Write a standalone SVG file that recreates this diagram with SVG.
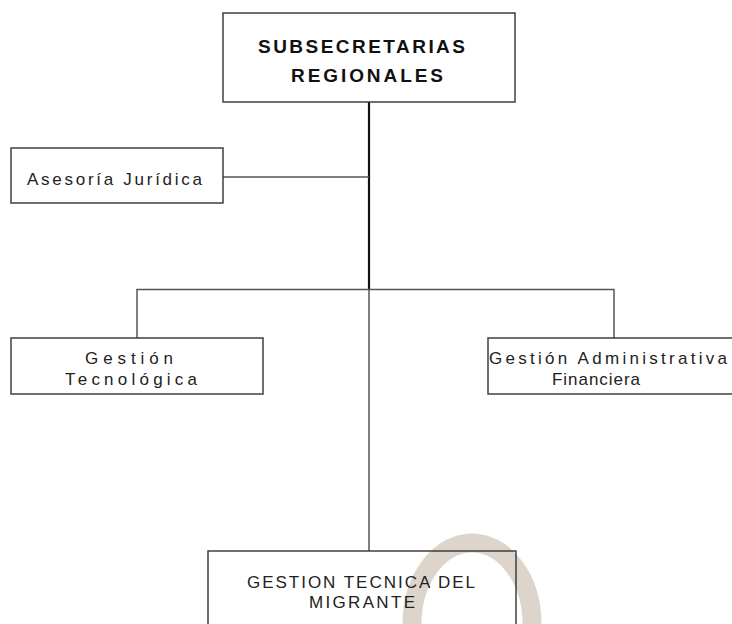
<svg xmlns="http://www.w3.org/2000/svg" width="732" height="624" viewBox="0 0 732 624">
<style>
.box{fill:none;stroke:#333;stroke-width:1.4}
.t{font-family:"Liberation Sans",Arial,sans-serif;font-size:17px;fill:#222}
.b{font-family:"Liberation Sans",Arial,sans-serif;font-size:19px;font-weight:bold;fill:#111}
.ln{fill:none;stroke:#555;stroke-width:1.5}
</style>
<rect width="732" height="624" fill="#fff"/>
<g id="watermark">
<path d="M 412 624 A 60 81 0 0 1 532 624" fill="none" stroke="#ddd5cb" stroke-width="19"/>
</g>
<g id="connectors">
<line x1="369" y1="102" x2="369" y2="290" stroke="#111" stroke-width="2.2"/>
<line class="ln" x1="369" y1="290" x2="369" y2="551"/>
<line class="ln" x1="223" y1="177" x2="369" y2="177"/>
<polyline class="ln" points="137,338 137,289.5 614,289.5 614,338"/>
</g>
<g id="subsecretarias">
<rect class="box" x="223" y="13" width="292" height="89"/>
<text class="b" x="258" y="53" textLength="207" lengthAdjust="spacing">SUBSECRETARIAS</text>
<text class="b" x="291" y="82" textLength="152" lengthAdjust="spacing">REGIONALES</text>
</g>
<g id="asesoria">
<rect class="box" x="11" y="148" width="212" height="55"/>
<text class="t" x="27" y="185" textLength="175" lengthAdjust="spacing">Asesoría Jurídica</text>
</g>
<g id="gestion-tecnologica">
<rect class="box" x="11" y="338" width="252" height="56"/>
<text class="t" x="85" y="364" textLength="88" lengthAdjust="spacing">Gestión</text>
<text class="t" x="65" y="385" textLength="132" lengthAdjust="spacing">Tecnológica</text>
</g>
<g id="gestion-administrativa">
<rect class="box" x="488" y="338" width="260" height="56"/>
<text class="t" x="489" y="364" textLength="238" lengthAdjust="spacing">Gestión Administrativa</text>
<text class="t" x="552" y="385" textLength="88" lengthAdjust="spacing">Financiera</text>
</g>
<g id="gestion-tecnica">
<rect class="box" x="208" y="551" width="308" height="90"/>
<text class="t" x="247" y="588" textLength="228" lengthAdjust="spacing">GESTION TECNICA DEL</text>
<text class="t" x="309" y="608" textLength="106" lengthAdjust="spacing">MIGRANTE</text>
</g>
</svg>
